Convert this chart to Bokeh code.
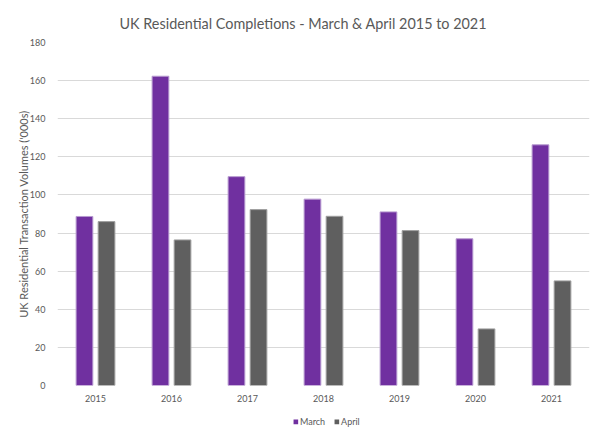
from bokeh.plotting import figure
from bokeh.models import ColumnDataSource, FactorRange, Legend, LegendItem, Range1d, FixedTicker
from bokeh.layouts import column
from bokeh.transform import dodge
from bokeh.embed import file_html
from bokeh.resources import INLINE

years = ["2015", "2016", "2017", "2018", "2019", "2020", "2021"]
march = [88.7, 162.3, 109.6, 97.8, 91.1, 77.0, 126.3]
april = [86.0, 76.4, 92.3, 88.8, 81.3, 29.7, 54.9]
y_ticks = [0, 20, 40, 60, 80, 100, 120, 140, 160, 180]

src = ColumnDataSource(dict(years=years, march=march, april=april))

FONT = "Lato"
GREY = "#595959"
PURPLE = "#7030A0"
DARK = "#5F5F5F"

p = figure(x_range=FactorRange(*years), y_range=Range1d(0, 180),
           frame_width=532, frame_height=343,
           output_backend="svg", toolbar_location=None,
           min_border_left=57, min_border_right=4, min_border_top=42, min_border_bottom=20,
           title="UK Residential Completions - March & April 2015 to 2021")

p.vbar(x=dodge("years", -0.145, range=p.x_range), top="march", width=0.22, source=src,
       fill_color=PURPLE, line_color="#b79ad0", line_width=1)
p.vbar(x=dodge("years", 0.145, range=p.x_range), top="april", width=0.22, source=src,
       fill_color=DARK, line_color="#a0a0a0", line_width=1)

p.title.align = "left"
p.title.text_font = FONT
p.title.text_font_size = "14.4px"
p.title.text_font_style = "normal"
p.title.text_color = GREY
p.title.offset = 62
p.title.standoff = 22

p.yaxis.ticker = FixedTicker(ticks=y_ticks)
p.yaxis.axis_label = "UK Residential Transaction Volumes ('000s)"
p.yaxis.axis_label_text_font = FONT
p.yaxis.axis_label_text_font_size = "11px"
p.yaxis.axis_label_text_font_style = "normal"
p.yaxis.axis_label_text_color = GREY
p.yaxis.axis_label_standoff = -3

for ax in (p.xaxis, p.yaxis):
    ax.axis_line_color = None
    ax.major_tick_line_color = None
    ax.minor_tick_line_color = None
    ax.major_label_text_font = FONT
    ax.major_label_text_font_size = "9px"
    ax.major_label_text_color = GREY
p.yaxis.major_label_standoff = 6
p.xaxis.major_label_standoff = 3

p.xgrid.grid_line_color = None
p.ygrid.grid_line_color = "#d9d9d9"
p.ygrid.ticker = FixedTicker(ticks=y_ticks)
p.outline_line_color = None
p.x_range.range_padding = 0
p.x_range.group_padding = 0

# Legend strip below the chart
lg = figure(x_range=FactorRange(*years), y_range=Range1d(1000, 1001),
            width=600, height=32, min_border=0,
            x_axis_location=None, y_axis_location=None,
            output_backend="svg", toolbar_location=None)
lg.xgrid.grid_line_color = None
lg.ygrid.grid_line_color = None
lg.outline_line_color = None
l1 = lg.vbar(x="years", top="march", width=0.2, source=src, fill_color=PURPLE, line_color=None)
l2 = lg.vbar(x="years", top="april", width=0.2, source=src, fill_color=DARK, line_color=None)

legend = Legend(items=[LegendItem(label="March", renderers=[l1]),
                       LegendItem(label="April", renderers=[l2])],
                orientation="horizontal", location="center",
                glyph_width=6, glyph_height=6, label_text_font=FONT,
                label_text_font_size="9px", label_text_color=GREY,
                border_line_color=None, background_fill_alpha=0,
                padding=0, margin=0, spacing=8, label_standoff=2, label_height=11)
lg.add_layout(legend, "center")

layout = column(p, lg, spacing=0)
open("out.html", "w").write(file_html(layout, INLINE))
